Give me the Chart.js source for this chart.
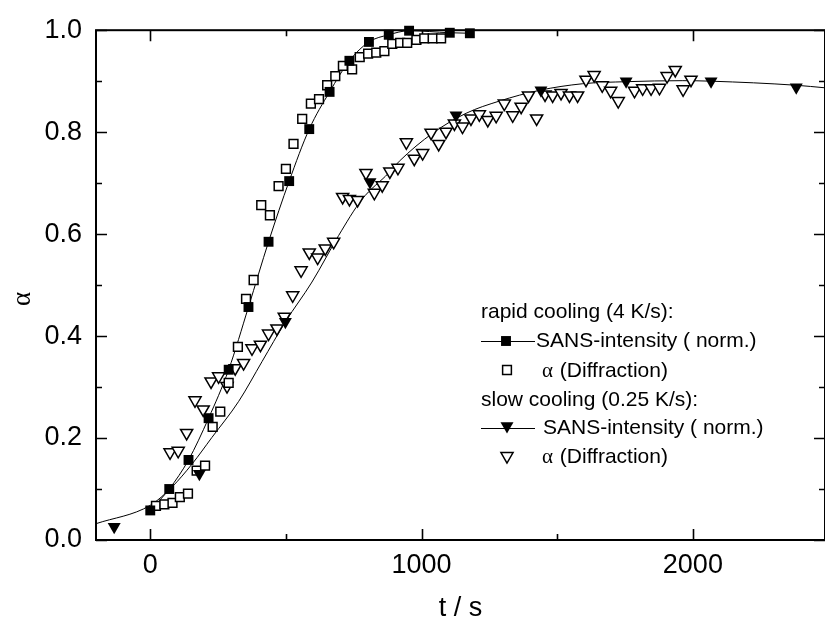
<!DOCTYPE html>
<html>
<head>
<meta charset="utf-8">
<script src="https://cdn.jsdelivr.net/npm/chart.js@4"></script>
<style>
  html, body { margin: 0; padding: 0; background: #fff; }
  #wrap { width: 825px; height: 623px; }
</style>
</head>
<body>
<div id="wrap"><canvas id="myChart" width="825" height="623"></canvas></div>
<script>
// rapid cooling (4 K/s) - SANS intensity (normalised)
const rapidSansT = [0, 70, 141, 215, 289, 362, 436, 512, 586, 661, 734, 806, 879, 954, 1104, 1178];
const rapidSansA = [0.058, 0.100, 0.157, 0.239, 0.334, 0.457, 0.585, 0.704, 0.806, 0.879, 0.940, 0.977, 0.991, 0.999, 0.995, 0.994];

// rapid cooling - alpha from diffraction
const rapidDiffT = [21, 52, 82, 109, 139, 171, 202, 230, 258, 289, 323, 353, 381, 409, 441, 473, 500, 528, 560, 592,
  622, 652, 682, 710, 744, 772, 803, 833, 863, 892, 921, 947, 981, 1010, 1041, 1072];
const rapidDiffA = [0.067, 0.070, 0.073, 0.084, 0.091, 0.136, 0.146, 0.222, 0.252, 0.308, 0.379, 0.473, 0.510, 0.657, 0.637, 0.694, 0.728, 0.777, 0.826, 0.856,
  0.865, 0.892, 0.910, 0.930, 0.923, 0.947, 0.954, 0.956, 0.959, 0.973, 0.975, 0.975, 0.981, 0.984, 0.984, 0.984];

// slow cooling (0.25 K/s) - SANS intensity (normalised)
const slowSansT = [-133, 181, 498, 810, 1127, 1440, 1754, 2067, 2381];
const slowSansA = [0.026, 0.130, 0.428, 0.702, 0.833, 0.882, 0.900, 0.900, 0.888];

// slow cooling - alpha from diffraction
const slowDiffT = [73, 103, 134, 165, 195, 224, 252, 283, 313, 344, 375, 406, 436, 467, 494, 525, 556, 586, 617, 645,
  676, 709, 734, 764, 795, 826, 855, 883, 913, 944, 973, 1004, 1035, 1063, 1090, 1121, 1151, 1182, 1213, 1244,
  1275, 1305, 1336, 1367, 1394, 1424, 1455, 1483, 1514, 1545, 1575, 1606, 1636, 1666, 1697, 1725, 1785, 1815, 1846, 1877,
  1905, 1935, 1964, 1993];
const slowDiffA = [0.172, 0.175, 0.210, 0.274, 0.256, 0.311, 0.321, 0.302, 0.337, 0.347, 0.376, 0.383, 0.405, 0.415, 0.438, 0.480, 0.529, 0.564, 0.554, 0.572,
  0.585, 0.673, 0.669, 0.667, 0.720, 0.681, 0.696, 0.723, 0.730, 0.780, 0.748, 0.759, 0.799, 0.777, 0.801, 0.817, 0.811, 0.827, 0.835, 0.824,
  0.832, 0.856, 0.833, 0.850, 0.872, 0.827, 0.874, 0.872, 0.877, 0.872, 0.872, 0.903, 0.912, 0.892, 0.881, 0.861, 0.881, 0.886, 0.886, 0.887,
  0.910, 0.922, 0.884, 0.903];

// fitted curve through the slow-cooling data
const slowFitT = [-200, 0, 80, 154, 227, 326, 412, 498, 596, 694, 780, 879, 918, 1041, 1164, 1287, 1434, 1594, 1754, 1963, 2067, 2381, 2487];
const slowFitA = [0.032, 0.068, 0.104, 0.149, 0.201, 0.272, 0.350, 0.428, 0.506, 0.597, 0.668, 0.720, 0.743, 0.798, 0.837, 0.861, 0.882, 0.895, 0.899, 0.901, 0.900, 0.892, 0.887];

// axes
const xMin = -200, xMax = 2487;
const xTicks = [0, 1000, 2000];
const xMinor = [500, 1500];
const yTicks = [0, 0.2, 0.4, 0.6, 0.8, 1.0];
const yMinor = [0.1, 0.3, 0.5, 0.7, 0.9];

const ctx = document.getElementById('myChart');

function pts(xs, ys) {
  return xs.map(function (v, i) { return { x: v, y: ys[i] }; });
}

Chart.defaults.font.family = "'Liberation Sans', Arial, sans-serif";
Chart.defaults.color = '#000';

// box with inward ticks on all four sides
const framePlugin = {
  id: 'frame',
  beforeDatasetsDraw(chart) {
    const c = chart.ctx;
    const a = chart.chartArea;
    const x = chart.scales.x, y = chart.scales.y;
    c.save();
    c.strokeStyle = '#000';
    c.lineWidth = 2;
    c.strokeRect(a.left, a.top, a.right - a.left, a.bottom - a.top);
    c.lineWidth = 1.6;
    c.beginPath();
    function xt(v, len) {
      const p = Math.round(x.getPixelForValue(v)) + 0.5;
      c.moveTo(p, a.bottom); c.lineTo(p, a.bottom - len);
      c.moveTo(p, a.top); c.lineTo(p, a.top + len);
    }
    function yt(v, len) {
      const p = Math.round(y.getPixelForValue(v)) + 0.5;
      c.moveTo(a.left, p); c.lineTo(a.left + len, p);
      c.moveTo(a.right, p); c.lineTo(a.right - len, p);
    }
    xTicks.forEach(function (v) { xt(v, 11); });
    xMinor.forEach(function (v) { xt(v, 6); });
    yTicks.forEach(function (v) { yt(v, 11); });
    yMinor.forEach(function (v) { yt(v, 6); });
    c.stroke();

    // y axis title
    c.fillStyle = '#000';
    c.font = "27px 'Liberation Serif', serif";
    c.textAlign = 'center';
    c.textBaseline = 'middle';
    c.translate(23, 299);
    c.rotate(-Math.PI / 2);
    c.fillText('\u03b1', 0, 0);
    c.restore();
  }
};

// legend with group headings
const legendPlugin = {
  id: 'legendBox',
  afterDatasetsDraw(chart) {
    const c = chart.ctx;
    const draw = Chart.helpers.drawPoint;
    const sans = "21px 'Liberation Sans', Arial, sans-serif";
    const serif = "21px 'Liberation Serif', serif";
    c.save();
    c.fillStyle = '#000';
    c.strokeStyle = '#000';
    c.textAlign = 'left';
    c.textBaseline = 'middle';

    function alphaRow(x, yy) {
      c.font = serif;
      c.fillText('\u03b1', x, yy);
      const w = c.measureText('\u03b1').width;
      c.font = sans;
      c.fillText(' (Diffraction)', x + w + 1, yy);
    }
    function lineSeg(yy) {
      c.lineWidth = 1;
      c.beginPath();
      c.moveTo(481, yy + 0.5); c.lineTo(535, yy + 0.5);
      c.stroke();
    }

    c.font = sans;
    c.fillText('rapid cooling (4 K/s):', 481, 312);
    lineSeg(341);
    c.fillStyle = '#000';
    draw(c, { pointStyle: 'rect', radius: 7, borderWidth: 0 }, 506, 341);
    c.fillText('SANS-intensity ( norm.)', 536, 341);

    c.fillStyle = '#fff'; c.lineWidth = 1.5;
    draw(c, { pointStyle: 'rect', radius: 6.2, borderWidth: 1.5 }, 507, 370);
    c.fillStyle = '#000';
    alphaRow(542, 371);

    c.font = sans;
    c.fillText('slow cooling (0.25 K/s):', 481, 400);
    lineSeg(428);
    c.fillStyle = '#000';
    draw(c, { pointStyle: 'triangle', radius: 7.5, rotation: 180, borderWidth: 0 }, 507, 426);
    c.font = sans;
    c.fillText('SANS-intensity ( norm.)', 543, 428);

    c.fillStyle = '#fff'; c.lineWidth = 1.5;
    draw(c, { pointStyle: 'triangle', radius: 7, rotation: 180, borderWidth: 1.5 }, 507, 456);
    c.fillStyle = '#000';
    alphaRow(542, 457);
    c.restore();
  }
};

new Chart(ctx, {
  type: 'scatter',
  data: {
    datasets: [
      {
        label: 'slow fit',
        data: pts(slowFitT, slowFitA),
        showLine: true, pointRadius: 0, borderColor: '#000', borderWidth: 1,
        cubicInterpolationMode: 'monotone', order: 10, clip: false
      },
      {
        label: 'rapid fit',
        data: pts(rapidSansT, rapidSansA),
        showLine: true, pointRadius: 0, borderColor: '#000', borderWidth: 1,
        cubicInterpolationMode: 'monotone', order: 9, clip: false
      },
      {
        label: 'slow diffraction',
        data: pts(slowDiffT, slowDiffA),
        pointStyle: 'triangle', rotation: 180, pointRadius: 7,
        backgroundColor: '#fff', borderColor: '#000', borderWidth: 1.5, order: 5, clip: false
      },
      {
        label: 'rapid diffraction',
        data: pts(rapidDiffT, rapidDiffA),
        pointStyle: 'rect', pointRadius: 6.2,
        backgroundColor: '#fff', borderColor: '#000', borderWidth: 1.5, order: 4, clip: false
      },
      {
        label: 'slow SANS',
        data: pts(slowSansT, slowSansA),
        pointStyle: 'triangle', rotation: 180, pointRadius: 7.5,
        backgroundColor: '#000', borderColor: '#000', borderWidth: 0, order: 2, clip: false
      },
      {
        label: 'rapid SANS',
        data: pts(rapidSansT, rapidSansA),
        pointStyle: 'rect', pointRadius: 7,
        backgroundColor: '#000', borderColor: '#000', borderWidth: 0, order: 1, clip: false
      }
    ]
  },
  options: {
    responsive: false,
    animation: false,
    devicePixelRatio: 1,
    layout: { autoPadding: false, padding: { top: 26, left: 0, right: 0, bottom: 0 } },
    plugins: { legend: { display: false }, tooltip: { enabled: false } },
    scales: {
      x: {
        type: 'linear', min: xMin, max: xMax,
        grid: { display: false, drawTicks: false },
        border: { display: false },
        afterBuildTicks: function (s) { s.ticks = xTicks.map(function (v) { return { value: v }; }); },
        afterFit: function (s) { s.height = 83; s.paddingLeft = 0; s.paddingRight = 0; },
        ticks: { font: { size: 27 }, padding: 9, maxRotation: 0, color: '#000',
          callback: function (v) { return String(v); } },
        title: { display: true, text: 't / s', font: { size: 27, lineHeight: 1.1 }, padding: { top: 0, bottom: 0 }, color: '#000' }
      },
      y: {
        type: 'linear', min: 0, max: 1,
        grid: { display: false, drawTicks: false },
        border: { display: false },
        afterBuildTicks: function (s) { s.ticks = yTicks.map(function (v) { return { value: v }; }); },
        afterFit: function (s) { s.width = 96; },
        ticks: { font: { size: 27 }, padding: 14, color: '#000',
          callback: function (v) { return v.toFixed(1); } }
      }
    }
  },
  plugins: [framePlugin, legendPlugin]
});
</script>
</body>
</html>
